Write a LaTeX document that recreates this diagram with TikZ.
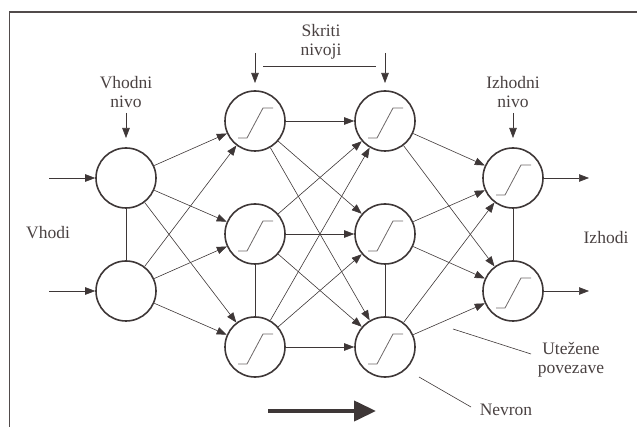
\documentclass[tikz,border=0pt]{standalone}
\usepackage{fontspec}
\setmainfont{Liberation Serif}
\usetikzlibrary{arrows.meta}
\definecolor{ink}{HTML}{3E3737}
\definecolor{txt}{HTML}{4A4242}
\begin{document}
\begin{tikzpicture}[x=1pt,y=-1pt,
  neuron/.style={circle,draw=ink,line width=1.6pt,minimum size=60pt,inner sep=0pt},
  conn/.style={draw=ink,line width=0.6pt,-{Triangle[length=10pt,width=7.5pt]}},
  link/.style={draw=ink,line width=0.6pt},
  glyph/.style={draw=ink!75,line width=0.8pt},
  lbl/.style={text=txt,align=center,font=\fontsize{17.5}{19}\selectfont,inner sep=0pt},
  frame/.style={draw=ink!90,line width=1.4pt}]
\useasboundingbox (0,0) rectangle (637,427);
% frame
\draw[frame] (9.5,427) -- (9.5,12) -- (637,12);
% neurons
\node[neuron] (i1) at (126,178) {};
\node[neuron] (i2) at (126,291) {};
\node[neuron] (a1) at (255,121) {};
\node[neuron] (a2) at (255,234) {};
\node[neuron] (a3) at (255,347) {};
\node[neuron] (b1) at (385,121) {};
\node[neuron] (b2) at (385,234) {};
\node[neuron] (b3) at (385,347) {};
\node[neuron] (o1) at (513,178) {};
\node[neuron] (o2) at (513,291) {};
% transfer function glyphs
\foreach \n in {a1,a2,a3,b1,b2,b3,o1,o2}
  \draw[glyph] ([shift={(-17,17)}]\n.center) -- ++(9,0) -- ++(16,-30) -- ++(10,0);
% weighted connections
\foreach \s in {i1,i2} \foreach \t in {a1,a2,a3} \draw[conn] (\s) -- (\t);
\foreach \s in {a1,a2,a3} \foreach \t in {b1,b2,b3} \draw[conn] (\s) -- (\t);
\foreach \s in {b1,b2,b3} \foreach \t in {o1,o2} \draw[conn] (\s) -- (\t);
% lateral links
\draw[link] (i1) -- (i2);
\draw[link] (a2) -- (a3);
\draw[link] (b2) -- (b3);
\draw[link] (o1) -- (o2);
% inputs and outputs
\coordinate (x1) at (49,178);
\coordinate (x2) at (49,291);
\coordinate (y1) at (589,178);
\coordinate (y2) at (589,291);
\draw[conn] (x1) -- (i1);
\draw[conn] (x2) -- (i2);
\draw[conn] (o1) -- (y1);
\draw[conn] (o2) -- (y2);
% layer labels
\node[lbl] (lin) at (126,92) {Vhodni\\nivo};
\node[lbl] (lhid) at (321,41.5) {Skriti\\nivoji};
\node[lbl] (lout) at (513,92) {Izhodni\\nivo};
\coordinate (pin0) at (126,113);  \coordinate (pin1) at (126,138);
\coordinate (pa0) at (255,53);    \coordinate (pa1) at (255,83);
\coordinate (pb0) at (385,53);    \coordinate (pb1) at (385,83);
\coordinate (pout0) at (513,113); \coordinate (pout1) at (513,138);
\draw[conn] (pin0) -- (pin1);
\draw[conn] (pa0) -- (pa1);
\draw[conn] (pb0) -- (pb1);
\draw[conn] (pout0) -- (pout1);
\coordinate (h0) at (263,66); \coordinate (h1) at (376,66);
\draw[link] (h0) -- (h1);
% side labels
\node[lbl] (lx) at (48,233) {Vhodi};
\node[lbl] (ly) at (606,238) {Izhodi};
\node[lbl] (lw) at (571,359.5) {Utežene\\povezave};
\node[lbl] (ln) at (506,410) {Nevron};
\coordinate (w0) at (453,329); \coordinate (w1) at (531,354);
\coordinate (n0) at (419,377); \coordinate (n1) at (471,407);
\draw[link] (w0) -- (w1);
\draw[link] (n0) -- (n1);
% direction of signal flow
\coordinate (f0) at (268,411); \coordinate (f1) at (376,411);
\draw[draw=ink,line width=4pt,-{Triangle[length=22pt,width=20pt]}] (f0) -- (f1);
\end{tikzpicture}
\end{document}
